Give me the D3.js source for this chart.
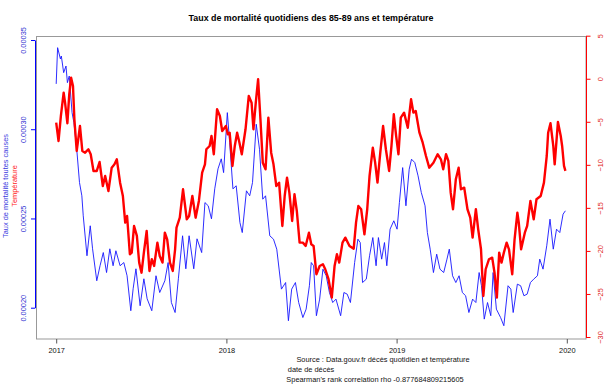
<!DOCTYPE html>
<html lang="fr">
<head>
<meta charset="UTF-8">
<title>Taux de mortalité quotidiens des 85-89 ans et température</title>
<script src="https://d3js.org/d3.v7.min.js"></script>
<style>
    body { margin: 0; background: #fff; }
    svg text { font-family: "Liberation Sans", Arial, sans-serif; }
</style>
</head>
<body>
<div id="chart"></div>
<script>
// jours comptés depuis le 1er janvier 2017
const mortDays = [0, 3, 9, 11, 16, 21, 24, 28, 34, 38, 44, 50, 55, 58, 66, 73, 78, 87, 94, 101,
    108, 115, 122, 128, 137, 145, 152, 160, 165, 171, 180, 188, 195, 205, 214, 222, 233, 240, 247, 255,
    262, 271, 278, 285, 295, 302, 312, 319, 326, 333, 340, 347, 354, 359, 367, 372, 379, 386, 394, 399,
    408, 415, 421, 429, 436, 443, 449, 458, 466, 473, 483, 492, 498, 505, 513, 520, 529, 536, 543, 547,
    552, 558, 565, 572, 579, 586, 593, 600, 610, 617, 624, 631, 640, 647, 652, 657, 665, 672, 679, 686,
    691, 698, 704, 709, 716, 724, 731, 736, 743, 750, 757, 762, 769, 776, 783, 791, 796, 802, 809, 816,
    823, 831, 838, 843, 850, 857, 864, 871, 878, 885, 893, 900, 907, 912, 918, 925, 932, 937, 944, 953,
    960, 969, 975, 980, 989, 996, 1003, 1010, 1017, 1024, 1032, 1037, 1044, 1052, 1059, 1066, 1073, 1080, 1087, 1092];
// taux de mortalité toutes causes (85-89 ans)
const mortRate = [0.0003254, 0.0003457, 0.0003394, 0.0003410, 0.0003317, 0.0003354, 0.0003261, 0.0003298, 0.0003093, 0.0003037,
    0.0002890, 0.0002701, 0.0002627, 0.0002515, 0.0002291, 0.0002459, 0.0002330, 0.0002151, 0.0002235, 0.0002309,
    0.0002197, 0.0002330, 0.0002235, 0.0002319, 0.0002235, 0.0002253, 0.0002179, 0.0001983, 0.0002106, 0.0002218,
    0.0002011, 0.0002162, 0.0002050, 0.0001983, 0.0002179, 0.0002085, 0.0002151, 0.0002253, 0.0002029, 0.0001973,
    0.0002162, 0.0002403, 0.0002218, 0.0002403, 0.0002218, 0.0002386, 0.0002309, 0.0002589, 0.0002571, 0.0002498,
    0.0002666, 0.0002778, 0.0002834, 0.0002757, 0.0003093, 0.0002925, 0.0002666, 0.0002683, 0.0002477, 0.0002421,
    0.0002655, 0.0002627, 0.0002701, 0.0003028, 0.0002888, 0.0002608, 0.0002627, 0.0002403, 0.0002384, 0.0002328,
    0.0002104, 0.0002141, 0.0001927, 0.0002104, 0.0002141, 0.0002029, 0.0001945, 0.0001992, 0.0002123, 0.0002253,
    0.0002235, 0.0001955, 0.0002048, 0.0002216, 0.0002179, 0.0002085, 0.0002029, 0.0002048, 0.0001955, 0.0002085,
    0.0002076, 0.0002029, 0.0002253, 0.0002384, 0.0002365, 0.0002141, 0.0002160, 0.0002291, 0.0002393, 0.0002235,
    0.0002393, 0.0002272, 0.0002365, 0.0002235, 0.0002440, 0.0002487, 0.0002440, 0.0002589, 0.0002785, 0.0002571,
    0.0002776, 0.0002832, 0.0002813, 0.0002739, 0.0002645, 0.0002571, 0.0002421, 0.0002328, 0.0002197, 0.0002300,
    0.0002216, 0.0002197, 0.0002272, 0.0002328, 0.0002179, 0.0002141, 0.0002179, 0.0002085, 0.0002067, 0.0001973,
    0.0002048, 0.0002029, 0.0002197, 0.0002123, 0.0001936, 0.0002029, 0.0001955, 0.0002197, 0.0001992, 0.0001945,
    0.0001899, 0.0002123, 0.0002104, 0.0001973, 0.0002132, 0.0002123, 0.0002067, 0.0002076, 0.0002141, 0.0002160,
    0.0002179, 0.0002272, 0.0002216, 0.0002347, 0.0002496, 0.0002328, 0.0002440, 0.0002421, 0.0002524, 0.0002543];

const tempDays = [0, 5, 10, 16, 19, 24, 28, 32, 36, 39, 44, 51, 56, 62, 69, 74, 80, 87, 93, 100,
    105, 112, 119, 125, 130, 137, 143, 148, 152, 158, 162, 167, 173, 178, 183, 188, 194, 200, 205, 210,
    217, 222, 228, 233, 238, 244, 250, 255, 258, 265, 272, 280, 285, 292, 299, 306, 313, 319, 322, 329,
    333, 338, 345, 351, 356, 364, 368, 372, 378, 383, 388, 393, 398, 406, 413, 419, 423, 428, 433, 438,
    443, 449, 455, 461, 466, 472, 478, 485, 490, 495, 500, 506, 511, 516, 522, 529, 535, 542, 547, 552,
    558, 565, 572, 577, 584, 591, 597, 602, 607, 614, 620, 629, 638, 643, 648, 654, 661, 667, 672, 679,
    684, 689, 695, 701, 707, 714, 719, 724, 729, 734, 739, 746, 754, 761, 766, 771, 779, 786, 793, 800,
    809, 818, 825, 830, 836, 841, 846, 851, 857, 863, 868, 875, 882, 888, 893, 900, 905, 911, 916, 921,
    928, 935, 940, 945, 950, 955, 960, 966, 971, 978, 983, 989, 992, 997, 1005, 1010, 1017, 1024, 1030, 1039,
    1046, 1052, 1055, 1060, 1066, 1069, 1076, 1082, 1085, 1089, 1092];
// température (axe de droite, valeurs telles que tracées)
const tempValues = [-5.10, -7.23, -4.33, -1.62, -2.78, -5.17, -1.81, 0.12, -0.84, -4.71,
    -8.39, -5.49, -8.39, -8.59, -8.19, -8.77, -10.71, -10.71, -9.67, -12.46,
    -11.29, -13.04, -10.33, -9.94, -9.36, -12.07, -13.62, -16.72, -15.94, -20.39,
    -20.20, -17.10, -18.26, -21.36, -22.53, -20.20, -17.68, -22.33, -20.97, -21.75,
    -19.04, -20.59, -21.36, -17.88, -18.65, -21.36, -22.33, -19.81, -17.30, -16.14,
    -12.84, -16.32, -15.94, -13.62, -16.14, -14.20, -10.91, -9.94, -8.19, -7.81,
    -6.65, -8.77, -3.55, -4.33, -6.07, -5.49, -6.45, -6.27, -10.13, -7.81,
    -6.27, -7.43, -8.77, -5.87, -2.00, -2.78, -5.87, -2.78, -0.06, -4.71,
    -9.75, -10.52, -4.52, -8.59, -9.94, -12.46, -12.07, -17.10, -13.62, -11.49,
    -13.23, -16.52, -13.42, -15.36, -19.04, -19.04, -19.42, -17.88, -19.23, -19.42,
    -22.71, -21.75, -21.55, -22.13, -23.29, -25.43, -21.75, -20.39, -21.36, -19.04,
    -18.46, -19.42, -19.74, -16.72, -14.78, -15.16, -18.07, -15.16, -11.29, -8.01,
    -9.75, -12.07, -8.59, -5.49, -8.19, -10.71, -7.81, -4.13, -6.65, -8.77,
    -4.52, -3.94, -5.69, -2.39, -3.94, -3.75, -6.27, -7.43, -8.97, -10.33,
    -9.75, -8.77, -9.36, -10.52, -8.77, -9.55, -13.23, -15.16, -11.68, -10.33,
    -12.84, -12.65, -15.16, -16.14, -18.46, -15.16, -17.49, -19.81, -25.23, -22.13,
    -20.97, -20.78, -22.53, -25.43, -20.20, -21.36, -20.20, -19.04, -19.81, -22.71,
    -18.65, -15.56, -16.72, -19.81, -17.88, -17.10, -14.20, -16.32, -14.00, -13.62,
    -12.07, -8.97, -6.27, -5.17, -7.81, -9.94, -5.02, -6.65, -7.81, -10.13, -10.71];

const yearTicks = [2017, 2018, 2019, 2020];
const rateTicks = [0.00020, 0.00025, 0.00030, 0.00035];
const tempTicks = [5, 0, -5, -10, -15, -20, -25, -30];

const width = 605, height = 384;
const fontSize = 7.4;
const start = new Date(Date.UTC(2017, 0, 1));

const svg = d3.select('#chart').append('svg')
    .attr('width', width)
    .attr('height', height);

const x = d3.scaleUtc()
    .domain([start, new Date(Date.UTC(2020, 0, 1))])
    .range([56.2, 566.8]);
const yRate = d3.scaleLinear().domain([0.00020, 0.00035]).range([307.7, 40]);
const yTemp = d3.scaleLinear().domain([-30, 5]).range([337, 35.7]);

const mortData = mortDays.map((d, i) => ({ date: d3.utcDay.offset(start, d), v: mortRate[i] }));
const tempData = tempDays.map((d, i) => ({ date: d3.utcDay.offset(start, d), v: tempValues[i] }));

// cadre gris
svg.append('rect')
    .attr('x', 36.5).attr('y', 36.5)
    .attr('width', 549.5).attr('height', 302.5)
    .attr('fill', 'none')
    .attr('stroke', '#999');

// séries
svg.append('path')
    .datum(mortData)
    .attr('fill', 'none')
    .attr('stroke', '#1515ff')
    .attr('stroke-width', 0.9)
    .attr('d', d3.line().x(d => x(d.date)).y(d => yRate(d.v)));

svg.append('path')
    .datum(tempData)
    .attr('fill', 'none')
    .attr('stroke', '#ff0000')
    .attr('stroke-width', 2.4)
    .attr('stroke-linejoin', 'round')
    .attr('d', d3.line().x(d => x(d.date)).y(d => yTemp(d.v)));

// axe gauche (taux)
const leftAxis = svg.append('g')
    .attr('transform', 'translate(35,0)')
    .call(d3.axisLeft(yRate).tickValues(rateTicks).tickFormat(d3.format('.5f')).tickSize(4).tickSizeOuter(0));
leftAxis.select('.domain').attr('stroke', 'blue');
leftAxis.selectAll('line').attr('stroke', 'blue');
leftAxis.selectAll('text')
    .attr('x', 0).attr('dy', null)
    .attr('transform', 'translate(-9,0) rotate(-90)')
    .attr('text-anchor', 'middle')
    .attr('fill', '#2a2ad0')
    .style('font-size', fontSize + 'px');

// axe droit (température)
const rightAxis = svg.append('g')
    .attr('transform', 'translate(586,0)')
    .call(d3.axisRight(yTemp).tickValues(tempTicks).tickSize(4.5).tickSizeOuter(0));
rightAxis.select('.domain').attr('stroke', 'red');
rightAxis.selectAll('line').attr('stroke', 'red');
rightAxis.selectAll('text')
    .attr('x', 0).attr('dy', null)
    .attr('transform', 'translate(16.5,0) rotate(-90)')
    .attr('text-anchor', 'middle')
    .attr('fill', '#e02020')
    .style('font-size', fontSize + 'px');

// axe des dates
const bottomAxis = svg.append('g')
    .attr('transform', 'translate(0,339)')
    .call(d3.axisBottom(x)
        .tickValues(yearTicks.map(y => new Date(Date.UTC(y, 0, 1))))
        .tickFormat(d3.utcFormat('%Y'))
        .tickSize(4.5).tickSizeOuter(0));
bottomAxis.select('.domain').remove();
bottomAxis.selectAll('line').attr('stroke', '#555');
bottomAxis.selectAll('text')
    .attr('y', 13.5).attr('dy', null)
    .attr('fill', '#111')
    .style('font-size', fontSize + 'px');

// titres
svg.append('text')
    .attr('x', 311).attr('y', 21)
    .attr('text-anchor', 'middle')
    .style('font-size', (fontSize * 1.2) + 'px')
    .style('font-weight', 'bold')
    .text('Taux de mortalité quotidiens des 85-89 ans et température');

svg.append('text')
    .attr('transform', 'translate(8,186) rotate(-90)')
    .attr('text-anchor', 'middle')
    .attr('fill', '#3a3ae0')
    .style('font-size', fontSize + 'px')
    .text('Taux de mortalité toutes causes');

svg.append('text')
    .attr('transform', 'translate(17,186) rotate(-90)')
    .attr('text-anchor', 'middle')
    .attr('fill', '#ff2020')
    .style('font-size', fontSize + 'px')
    .text('Température');

const notes = [
    { text: 'Source : Data.gouv.fr décès quotidien et température', x: 383, y: 362 },
    { text: 'date de décès', x: 311, y: 372 },
    { text: "Spearman's rank correlation rho -0.877684809215605", x: 375, y: 382 }
];
svg.selectAll('.note')
    .data(notes)
    .enter().append('text')
    .attr('class', 'note')
    .attr('x', d => d.x).attr('y', d => d.y)
    .attr('text-anchor', 'middle')
    .attr('fill', '#111')
    .style('font-size', fontSize + 'px')
    .text(d => d.text);
</script>
</body>
</html>
